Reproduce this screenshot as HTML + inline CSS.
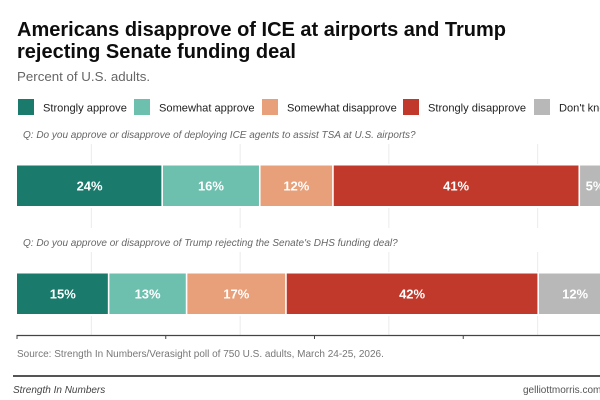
<!DOCTYPE html>
<html>
<head>
<meta charset="utf-8">
<style>
html,body{margin:0;padding:0;background:#fff;}
svg{display:block;font-family:"Liberation Sans",Arial,sans-serif;}
</style>
</head>
<body>
<svg id="chart" xmlns="http://www.w3.org/2000/svg" width="600" height="400" viewBox="0 0 600 400">
<rect width="600" height="400" fill="#fff"/>
<text x="17" y="36" font-size="20" font-weight="700" fill="#0d0d0d">Americans disapprove of ICE at airports and Trump</text>
<text x="17" y="58" font-size="20" font-weight="700" fill="#0d0d0d">rejecting Senate funding deal</text>
<text x="17" y="81" font-size="13.3" fill="#666">Percent of U.S. adults.</text>
<text x="23" y="138" font-size="10" font-style="italic" fill="#666">Q: Do you approve or disapprove of deploying ICE agents to assist TSA at U.S. airports?</text>
<text x="23" y="246" font-size="10" font-style="italic" fill="#666">Q: Do you approve or disapprove of Trump rejecting the Senate's DHS funding deal?</text>
<text x="17" y="357" font-size="10" fill="#777">Source: Strength In Numbers/Verasight poll of 750 U.S. adults, March 24-25, 2026.</text>
<rect x="13" y="375" width="587" height="2" fill="#555"/>
<text x="13" y="393" font-size="10" font-style="italic" fill="#444">Strength In Numbers</text>
<text x="523" y="393" font-size="10" fill="#555">gelliottmorris.com</text>
<g id="plot"></g>
</svg>
<script>
var categories = ["Strongly approve", "Somewhat approve", "Somewhat disapprove", "Strongly disapprove", "Don't know"];
var questions = ["deploying-ice", "rejecting-deal"];
var deployingIce = [24.4, 16.4, 12.3, 41.4, 5.3];
var rejectingDeal = [15.4, 13.1, 16.7, 42.4, 12.4];
var axisTicks = [0, 25, 50, 75, 100];
var gridTicks = [12.5, 37.5, 62.5, 87.5];

var seriesColors = ["#1a7a6b", "#6dbfae", "#e8a07a", "#c0392b", "#b8b8b8"];
var legendSwatchX = [18, 134, 262, 403, 534];
var NS = "http://www.w3.org/2000/svg";
var plot = document.getElementById("plot");
var allSeries = [deployingIce, rejectingDeal];

function xScale(v) { return 17 + v * 5.95; }
function make(tag, attrs) {
  var el = document.createElementNS(NS, tag);
  for (var k in attrs) el.setAttribute(k, attrs[k]);
  plot.appendChild(el);
  return el;
}

var rowTop = [165.5, 273.5];
var rowHeight = 40.5;
var gridBands = [[144, 164], [208, 228], [252, 272], [316, 335]];

gridTicks.forEach(function (t) {
  gridBands.forEach(function (b) {
    var g = make("line", {x1: xScale(t), x2: xScale(t), y1: b[0], y2: b[1], stroke: "#ebebeb", "stroke-width": 1});
    
    
  });
});

categories.forEach(function (c, i) {
  var s = make("rect", {x: legendSwatchX[i], y: 99, width: 16, height: 16, fill: seriesColors[i]});
  
  
  var t = make("text", {x: legendSwatchX[i] + 25, y: 111.5, "font-size": 11.1, fill: "#222"});
  
  
  t.textContent = c;
});

allSeries.forEach(function (vals, r) {
  var cum = 0;
  vals.forEach(function (v, i) {
    var x0 = xScale(cum), x1 = xScale(cum + v);
    var bar = make("rect", {x: x0 + (i ? 0.8 : 0), y: rowTop[r], width: x1 - x0 - (i ? 1.6 : 0.8), height: rowHeight, fill: seriesColors[i]});
    
    
    var label = make("text", {x: (x0 + x1) / 2, y: rowTop[r] + 25, "font-size": 13, "font-weight": 700, fill: "#fff", "text-anchor": "middle"});
    
    
    label.textContent = Math.round(v) + "%";
    cum += v;
  });
});

var axis = make("line", {x1: 16.5, x2: 600, y1: 335.5, y2: 335.5, stroke: "#444", "stroke-width": 1.2});



axisTicks.forEach(function (t) {
  var tick = make("line", {x1: xScale(t), x2: xScale(t), y1: 335.5, y2: 339, stroke: "#444", "stroke-width": 1});
  
  
});
</script>
</body>
</html>
